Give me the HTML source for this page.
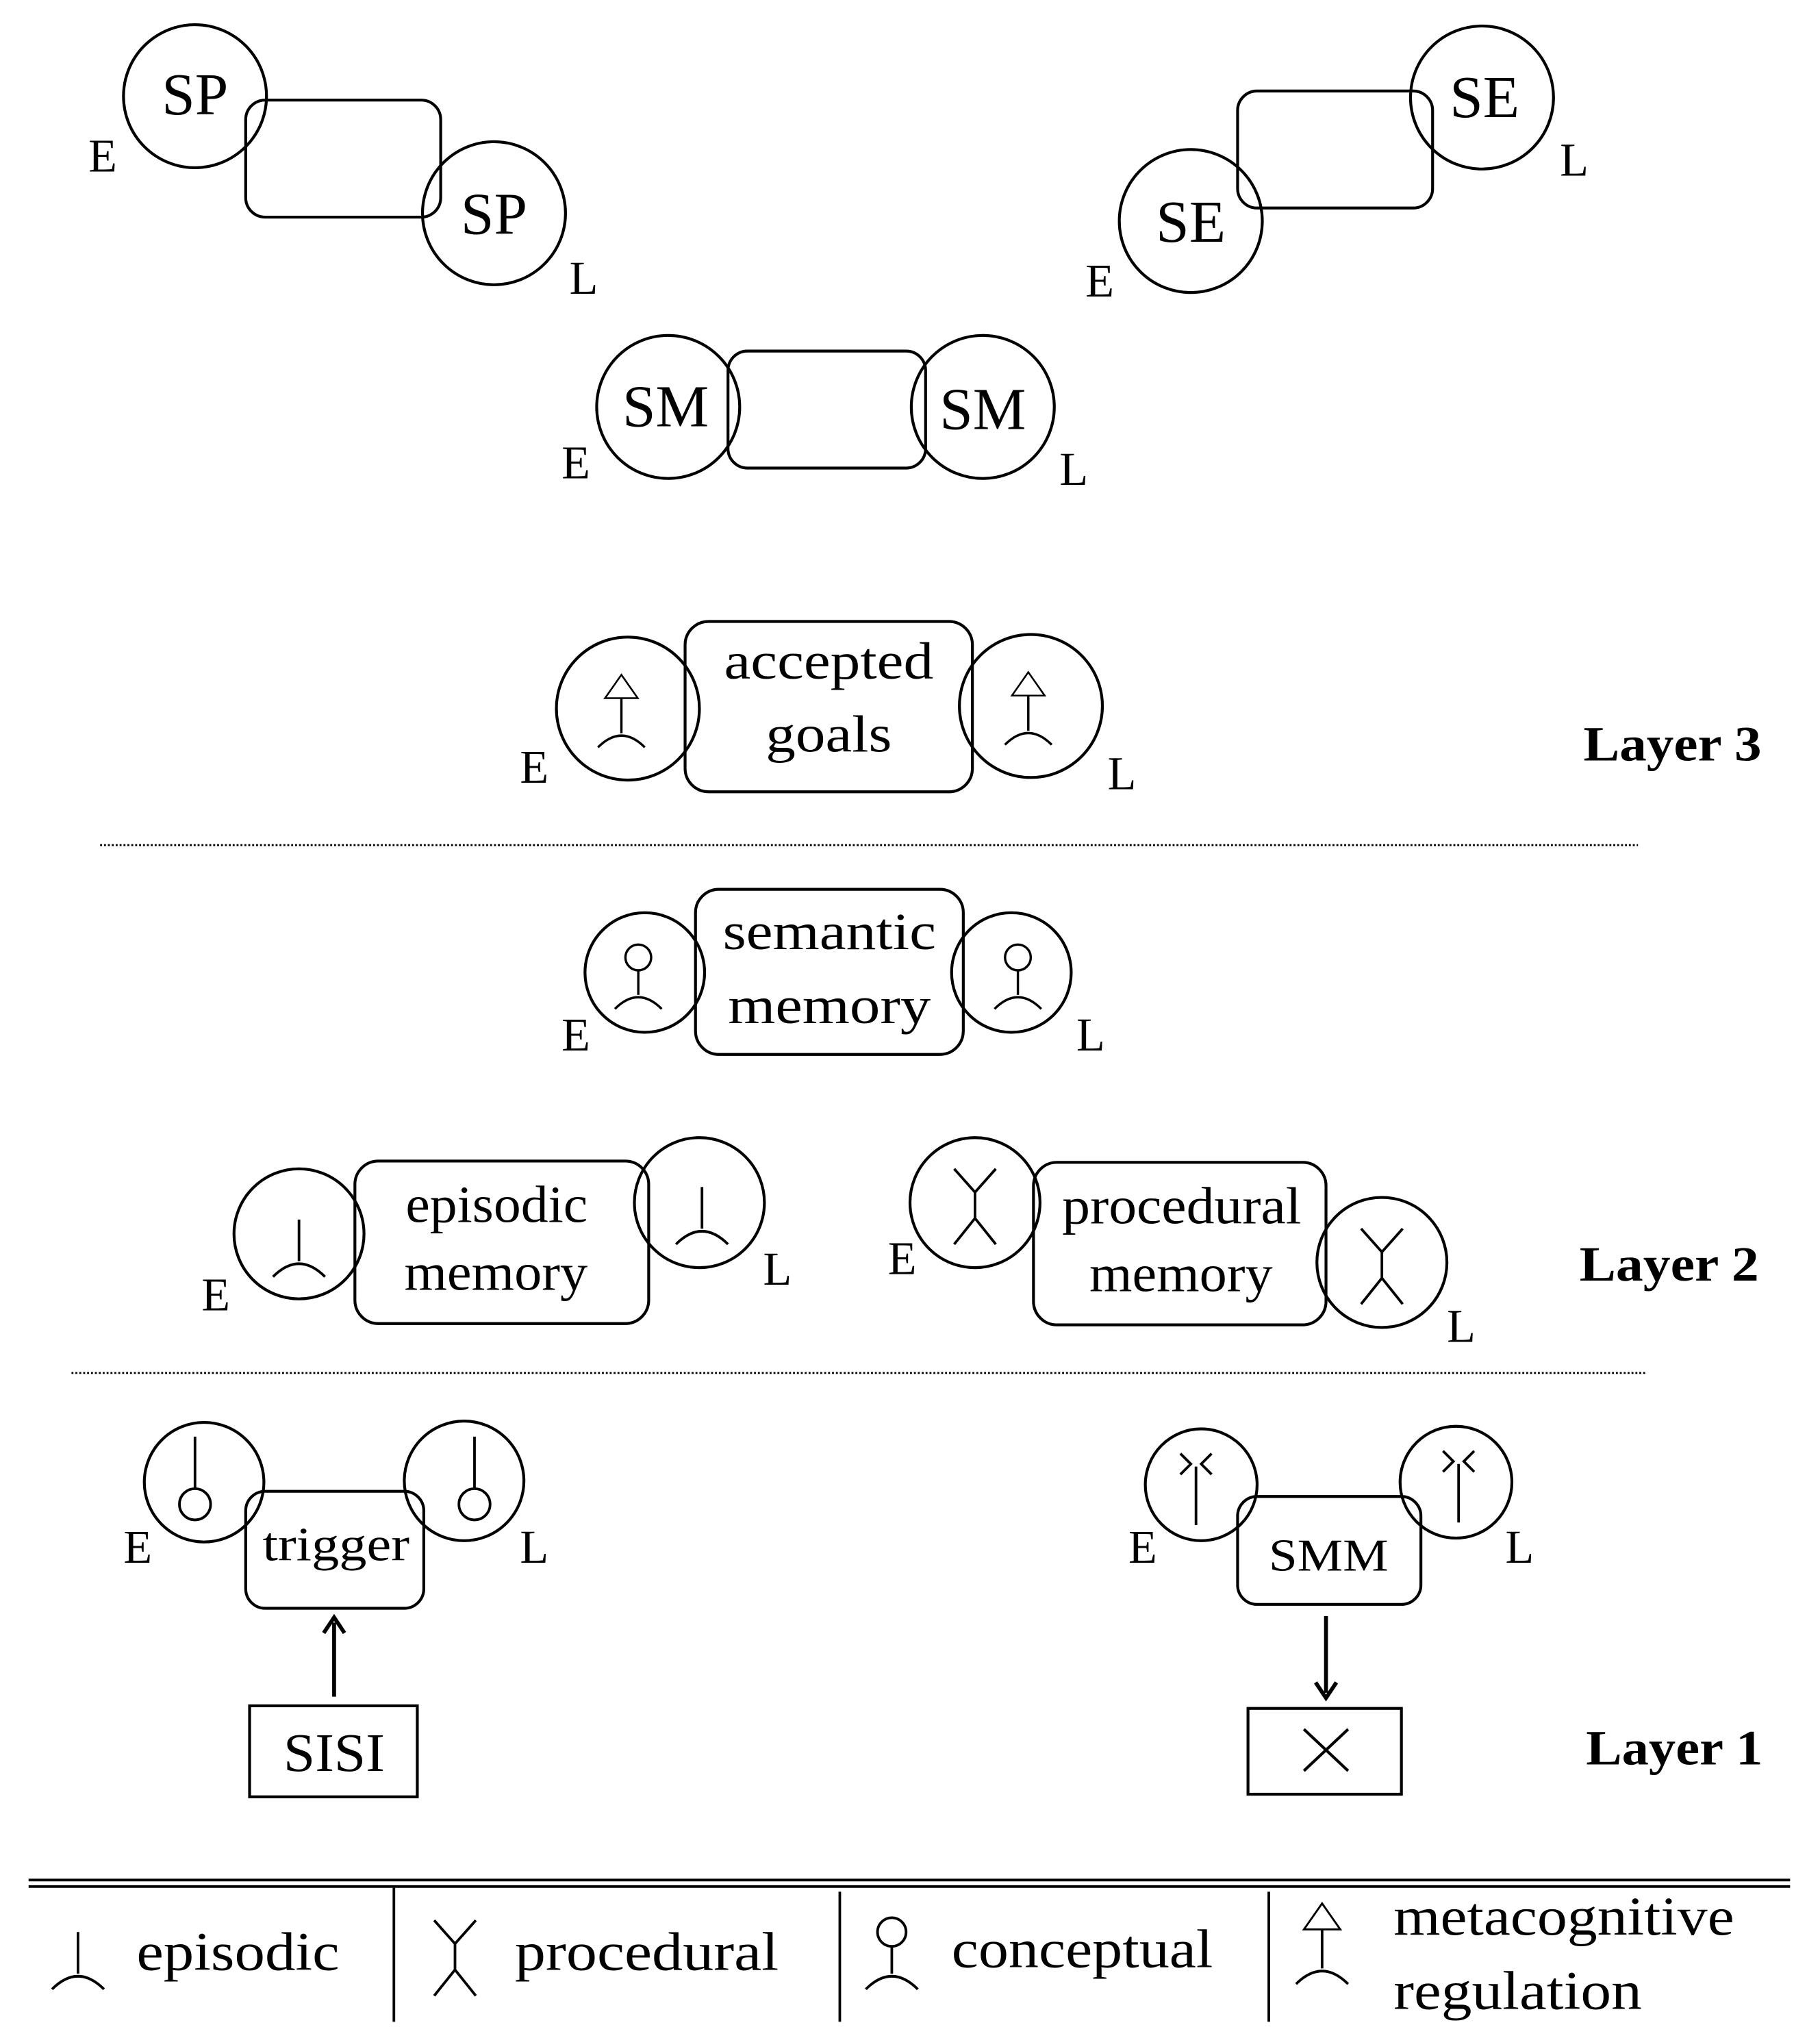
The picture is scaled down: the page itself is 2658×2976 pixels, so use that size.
<!DOCTYPE html>
<html><head><meta charset="utf-8"><style>
html,body{margin:0;padding:0;background:#fff}
svg{display:block}
text{font-family:"Liberation Serif",serif;fill:#000}
</style></head><body>
<svg width="2658" height="2976" viewBox="0 0 1400 1567.5" preserveAspectRatio="none" xmlns="http://www.w3.org/2000/svg">
<defs>
<g id="epi" fill="none" stroke="#000" stroke-width="2"><line x1="0" y1="-24" x2="0" y2="8"/><path d="M-20,20 Q0,0 20,20"/></g>
<g id="pro" fill="none" stroke="#000" stroke-width="2"><path d="M-16,-28 L0,-10 L16,-28 M0,-10 L0,10 M-16,30 L0,10 L16,30"/></g>
<g id="con" fill="none" stroke="#000" stroke-width="2"><circle cx="0" cy="-24" r="11"/><line x1="0" y1="-13" x2="0" y2="8"/><path d="M-20,20 Q0,0 20,20"/></g>
<g id="met" fill="none" stroke="#000" stroke-width="2"><path d="M-14,-20 L0,-40 L14,-20 Z" stroke-width="1.5"/><line x1="0" y1="-20" x2="0" y2="10"/><path d="M-20,22 Q0,2 20,22"/></g>
</defs>
<g fill="none" stroke="#000" stroke-width="2.2">
<rect x="189" y="77" width="150" height="90" rx="15"/>
<circle cx="150" cy="74" r="55"/><circle cx="380" cy="164" r="55"/>
<rect x="952" y="70" width="150" height="90" rx="15"/>
<circle cx="1140" cy="75" r="55"/><circle cx="916" cy="170" r="55"/>
<rect x="560" y="270" width="152" height="90" rx="15"/>
<circle cx="514" cy="313" r="55"/><circle cx="756" cy="313" r="55"/>
<rect x="527" y="478" width="221" height="131" rx="18"/>
<circle cx="483" cy="545" r="55"/><circle cx="793" cy="543" r="55"/>
<rect x="535" y="684" width="206" height="127" rx="18"/>
<circle cx="496" cy="748" r="46"/><circle cx="778" cy="748" r="46"/>
<rect x="273" y="893" width="226" height="125" rx="18"/>
<circle cx="230" cy="949" r="50"/><circle cx="538" cy="925" r="50"/>
<rect x="795" y="894" width="225" height="125" rx="18"/>
<circle cx="750" cy="925" r="50"/><circle cx="1063" cy="971" r="50"/>
<rect x="189" y="1147" width="137" height="90" rx="15"/>
<circle cx="157" cy="1140" r="46"/><circle cx="357" cy="1139" r="46"/>
<rect x="952" y="1151" width="141" height="83" rx="15"/>
<circle cx="924" cy="1142" r="43"/><circle cx="1120" cy="1140" r="43"/>
<rect x="192" y="1312" width="129" height="70"/>
<rect x="960" y="1314" width="118" height="66"/>
<path d="M1003,1330 L1037,1362 M1037,1330 L1003,1362"/>
</g>
<g stroke="#000" stroke-width="3" fill="none">
<line x1="257" y1="1305" x2="257" y2="1248"/><path d="M249,1256 L257,1244 L265,1256"/>
<line x1="1020" y1="1243" x2="1020" y2="1302"/><path d="M1012,1294 L1020,1306 L1028,1294"/>
</g>
<line x1="77" y1="650" x2="1260" y2="650" stroke="#000" stroke-width="1.5" stroke-dasharray="1.5,1.5"/>
<line x1="55" y1="1056" x2="1267" y2="1056" stroke="#000" stroke-width="1.5" stroke-dasharray="1.5,1.5"/>
<g stroke="#000" stroke-width="2">
<line x1="22" y1="1446" x2="1377" y2="1446"/><line x1="22" y1="1451" x2="1377" y2="1451"/>
<line x1="303" y1="1452" x2="303" y2="1555"/>
<line x1="646" y1="1455" x2="646" y2="1555"/>
<line x1="976" y1="1455" x2="976" y2="1555"/>
</g>
<use href="#met" transform="translate(478,555) scale(0.9)"/>
<use href="#met" transform="translate(791,553) scale(0.9)"/>
<use href="#con" transform="translate(491,758) scale(0.9)"/>
<use href="#con" transform="translate(783,758) scale(0.9)"/>
<use href="#epi" transform="translate(230,962)"/>
<use href="#epi" transform="translate(540,937)"/>
<use href="#pro" transform="translate(750,927)"/>
<use href="#pro" transform="translate(1063,973)"/>
<g fill="none" stroke="#000" stroke-width="2">
<line x1="150" y1="1105" x2="150" y2="1145"/><circle cx="150" cy="1157" r="12"/>
<line x1="365" y1="1105" x2="365" y2="1145"/><circle cx="365" cy="1157" r="12"/>
<path d="M908,1118 L916,1126 L908,1134 M932,1118 L924,1126 L932,1134 M920,1128 L920,1173"/>
<path d="M1110,1116 L1118,1124 L1110,1132 M1134,1116 L1126,1124 L1134,1132 M1122,1126 L1122,1171"/>
</g>
<use href="#epi" transform="translate(60,1510)"/>
<use href="#pro" transform="translate(350,1505)"/>
<use href="#con" transform="translate(686,1510)"/>
<use href="#met" transform="translate(1017,1504)"/>
<g font-size="46" text-anchor="middle">
<text x="150" y="88">SP</text><text x="380" y="180">SP</text>
<text x="1142" y="90">SE</text><text x="916" y="186">SE</text>
<text x="512" y="328">SM</text><text x="756" y="330">SM</text>
</g>
<g font-size="36">
<text x="68" y="132">E</text><text x="438" y="226">L</text>
<text x="835" y="228">E</text><text x="1200" y="135">L</text>
<text x="432" y="368">E</text><text x="815" y="373">L</text>
<text x="400" y="602">E</text><text x="852" y="607">L</text>
<text x="432" y="808">E</text><text x="828" y="808">L</text>
<text x="155" y="1008">E</text><text x="587" y="988">L</text>
<text x="683" y="980">E</text><text x="1113" y="1032">L</text>
<text x="95" y="1202">E</text><text x="400" y="1202">L</text>
<text x="868" y="1202">E</text><text x="1158" y="1202">L</text>
</g>
<g font-size="40" lengthAdjust="spacingAndGlyphs">
<text x="557" y="522" textLength="161" lengthAdjust="spacingAndGlyphs">accepted</text>
<text x="589" y="578" textLength="97" lengthAdjust="spacingAndGlyphs">goals</text>
<text x="556" y="730" textLength="164" lengthAdjust="spacingAndGlyphs">semantic</text>
<text x="560" y="787" textLength="156" lengthAdjust="spacingAndGlyphs">memory</text>
<text x="312" y="940" textLength="140" lengthAdjust="spacingAndGlyphs">episodic</text>
<text x="311" y="992" textLength="141" lengthAdjust="spacingAndGlyphs">memory</text>
<text x="817" y="941" textLength="184" lengthAdjust="spacingAndGlyphs">procedural</text>
<text x="838" y="993" textLength="141" lengthAdjust="spacingAndGlyphs">memory</text>
</g>
<text x="202" y="1200" font-size="37" textLength="113" lengthAdjust="spacingAndGlyphs">trigger</text>
<text x="976" y="1208" font-size="35" textLength="92" lengthAdjust="spacingAndGlyphs">SMM</text>
<text x="218" y="1362" font-size="42" textLength="78" lengthAdjust="spacingAndGlyphs">SISI</text>
<g font-size="38" font-weight="bold">
<text x="1218" y="585" textLength="137" lengthAdjust="spacingAndGlyphs">Layer 3</text>
<text x="1215" y="985" textLength="138" lengthAdjust="spacingAndGlyphs">Layer 2</text>
<text x="1220" y="1357" textLength="136" lengthAdjust="spacingAndGlyphs">Layer 1</text>
</g>
<g font-size="42">
<text x="105" y="1515" textLength="156" lengthAdjust="spacingAndGlyphs">episodic</text>
<text x="396" y="1515" textLength="203" lengthAdjust="spacingAndGlyphs">procedural</text>
<text x="732" y="1513" textLength="201" lengthAdjust="spacingAndGlyphs">conceptual</text>
<text x="1072" y="1488" textLength="262" lengthAdjust="spacingAndGlyphs">metacognitive</text>
<text x="1072" y="1545" textLength="191" lengthAdjust="spacingAndGlyphs">regulation</text>
</g>
</svg>
</body></html>
